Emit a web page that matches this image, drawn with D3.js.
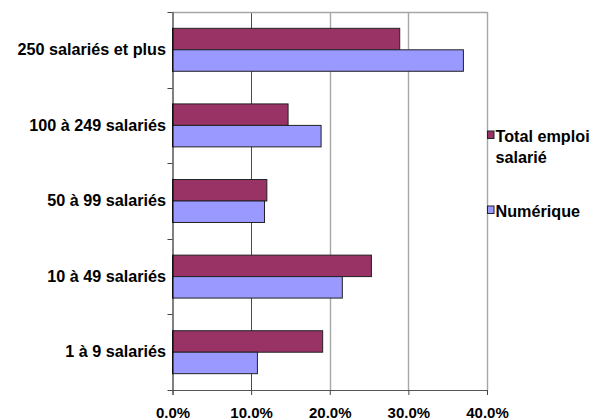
<!DOCTYPE html>
<html><head><meta charset="utf-8">
<script src="https://cdn.jsdelivr.net/npm/d3@7"></script>
<style>body{margin:0;background:#fff}svg{display:block}text{font-family:"Liberation Sans",Arial,sans-serif;font-weight:bold;fill:#000}</style>
</head><body><svg id="c" width="592" height="418"></svg>
<script>
const categories = ["250 salariés et plus","100 à 249 salariés","50 à 99 salariés","10 à 49 salariés","1 à 9 salariés"];
const seriesNames = ["Total emploi salarié","Numérique"];
const totalEmploi = [28.9, 14.7, 12.0, 25.3, 19.1];
const numerique = [37.0, 18.9, 11.7, 21.6, 10.8];
const xTicks = [0,10,20,30,40];
const colors = ["#993366","#9999FF"];

const svg = d3.select("#c");
const L=172.5, R=487, T=12, B=390;
const x = d3.scaleLinear().domain([0,40]).range([L,R]);
const y = d3.scaleBand().domain(categories).range([T,B]).padding(0);
const ys = d3.scaleBand().domain(["t","n"]).range([0,y.bandwidth()]).paddingInner(0).paddingOuter(0.76);
const series = [totalEmploi, numerique];

// gridlines
svg.append("g").selectAll("line").data(xTicks.slice(1)).join("line")
  .attr("x1",d=>Math.round(x(d))+0.5).attr("x2",d=>Math.round(x(d))+0.5)
  .attr("y1",T).attr("y2",B)
  .attr("stroke",(d,i)=>i===0?"#4a4a4a":"#a6a6a6").attr("stroke-width",(d,i)=>i===0?1:1.4);
// top border
svg.append("line").attr("x1",L).attr("x2",Math.round(R)+0.5).attr("y1",T+0.5).attr("y2",T+0.5).attr("stroke","#a6a6a6").attr("stroke-width",1.4);

// bars
categories.forEach((c,i)=>{
  ["t","n"].forEach((s,j)=>{
    const v = series[j][i];
    svg.append("rect").attr("x",x(0)).attr("y",y(c)+ys(s)).attr("width",x(v)-x(0)).attr("height",ys.bandwidth())
      .attr("fill",colors[j]).attr("stroke","#222").attr("stroke-width",1);
  });
});

// axes
const xAxis = d3.axisBottom(x).tickValues(xTicks).tickSize(5).tickFormat(d=>d.toFixed(1)+"%");
const gx = svg.append("g").attr("transform",`translate(0,${B})`).call(xAxis);
gx.select(".domain").attr("stroke","#555");
gx.selectAll(".tick line").attr("stroke","#444");
gx.selectAll("text").attr("font-size",15).attr("font-weight","bold").attr("fill","#000")
  .attr("font-family","Liberation Sans, Arial, sans-serif").attr("dy",null).attr("y",null)
  .attr("transform","translate(0,27.5)");

const yAxis = d3.axisLeft(y).tickSize(0).tickPadding(6.5);
const gy = svg.append("g").attr("transform",`translate(${L},0)`).call(yAxis);
gy.select(".domain").attr("stroke","#000");
gy.selectAll("text").attr("font-size",16.2).attr("font-weight","bold").attr("fill","#000")
  .attr("font-family","Liberation Sans, Arial, sans-serif");
// category boundary ticks
svg.append("g").selectAll("line").data(categories.map(c=>y(c)).concat([B])).join("line")
  .attr("x1",L-5).attr("x2",L).attr("y1",d=>Math.round(d)+0.5).attr("y2",d=>Math.round(d)+0.5).attr("stroke","#444");

// legend
const lg = svg.append("g");
const legendItems = [{name:["Total emploi","salarié"],c:colors[0],y:142},{name:["Numérique"],c:colors[1],y:217}];
legendItems.forEach(it=>{
  lg.append("rect").attr("x",487.5).attr("y",it.y-11).attr("width",6.5).attr("height",7.5).attr("fill",it.c).attr("stroke","#222");
  const t = lg.append("text").attr("x",495.5).attr("y",it.y).attr("font-size",16.2);
  it.name.forEach((n,k)=>t.append("tspan").attr("x",495.5).attr("dy",k?20.5:0).text(n));
});
</script></body></html>
